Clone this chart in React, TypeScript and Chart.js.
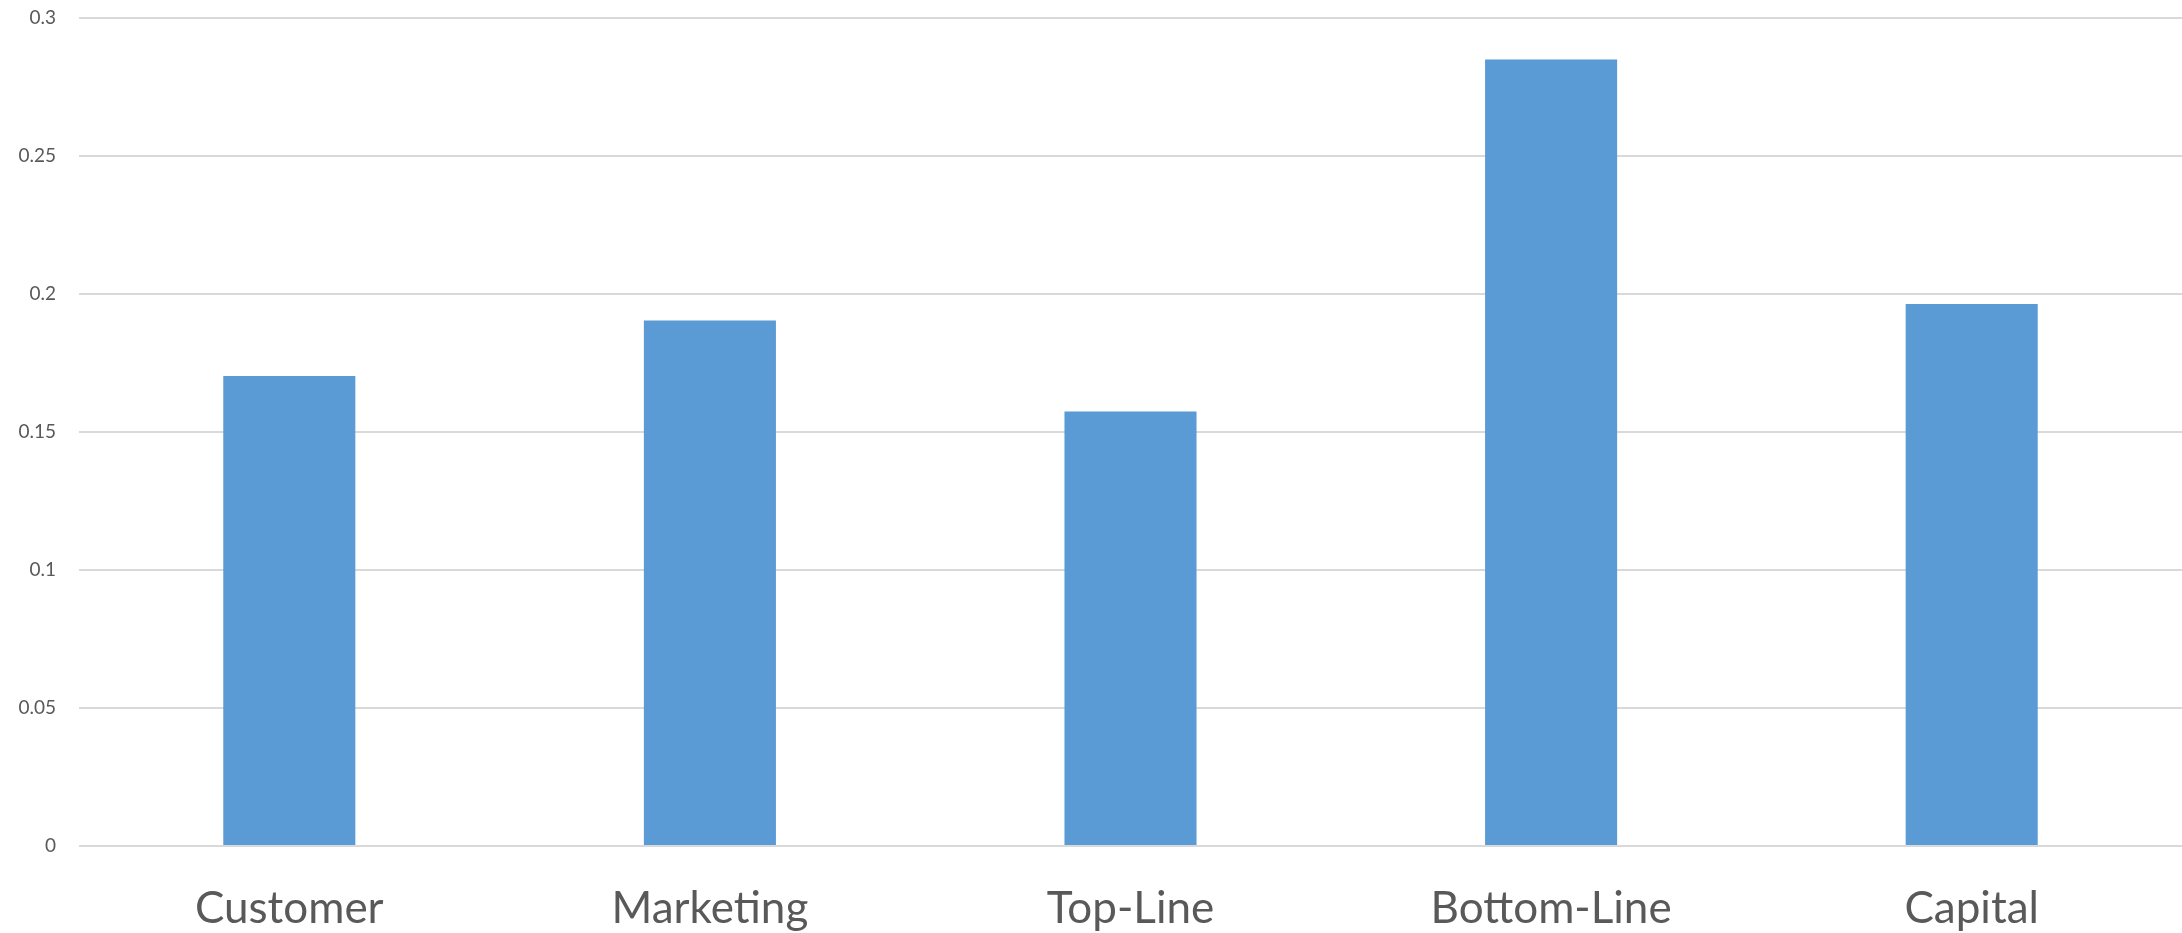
import React, { useEffect, useRef } from "react";
import { Chart, registerables } from "chart.js";

Chart.register(...registerables);

const categories = ["Customer", "Marketing", "Top-Line", "Bottom-Line", "Capital"];
const values = [0.1703, 0.1904, 0.1574, 0.285, 0.1964];
const yTicks = [0, 0.05, 0.1, 0.15, 0.2, 0.25, 0.3];

export default function App() {
  const ref = useRef<HTMLCanvasElement | null>(null);
  useEffect(() => {
    document.body.style.margin = "0";
    const ctx = ref.current!;
    const chart = new Chart(ctx, {
      type: "bar",
      data: {
        labels: categories,
        datasets: [
          {
            data: values,
            backgroundColor: "#5b9bd5",
            barPercentage: 0.314,
            categoryPercentage: 1,
          },
        ],
      },
      options: {
        animation: false,
        responsive: false,
        maintainAspectRatio: false,
        layout: { padding: { top: 18, right: 0, left: 0, bottom: 0 } },
        plugins: { legend: { display: false }, tooltip: { enabled: false } },
        scales: {
          x: {
            grid: { display: false, drawTicks: false },
            border: { display: false },
            ticks: {
              color: "#595959",
              font: { family: "Lato", size: 44 },
              padding: 36,
            },
            afterFit: (s: any) => {
              s.height = 87;
              s.paddingLeft = 0;
              s.paddingRight = 0;
            },
          },
          y: {
            min: 0,
            max: 0.3,
            afterBuildTicks: (s: any) => {
              s.ticks = yTicks.map((v) => ({ value: v }));
            },
            grid: { color: "#d9d9d9", lineWidth: 2, drawTicks: false },
            border: { display: false },
            ticks: {
              color: "#595959",
              font: { family: "Lato", size: 19 },
              padding: 23,
              callback: (v: any) => String(+Number(v).toFixed(2)),
            },
            afterFit: (s: any) => {
              s.width = 79;
              s.paddingTop = 0;
              s.paddingBottom = 0;
            },
          },
        },
      },
    });
    return () => chart.destroy();
  }, []);
  return (
    <div style={{ position: "absolute", left: 0, top: 0, width: 2182, height: 933 }}>
      <canvas ref={ref} width={2182} height={933} style={{ width: 2182, height: 933 }} />
    </div>
  );
}
